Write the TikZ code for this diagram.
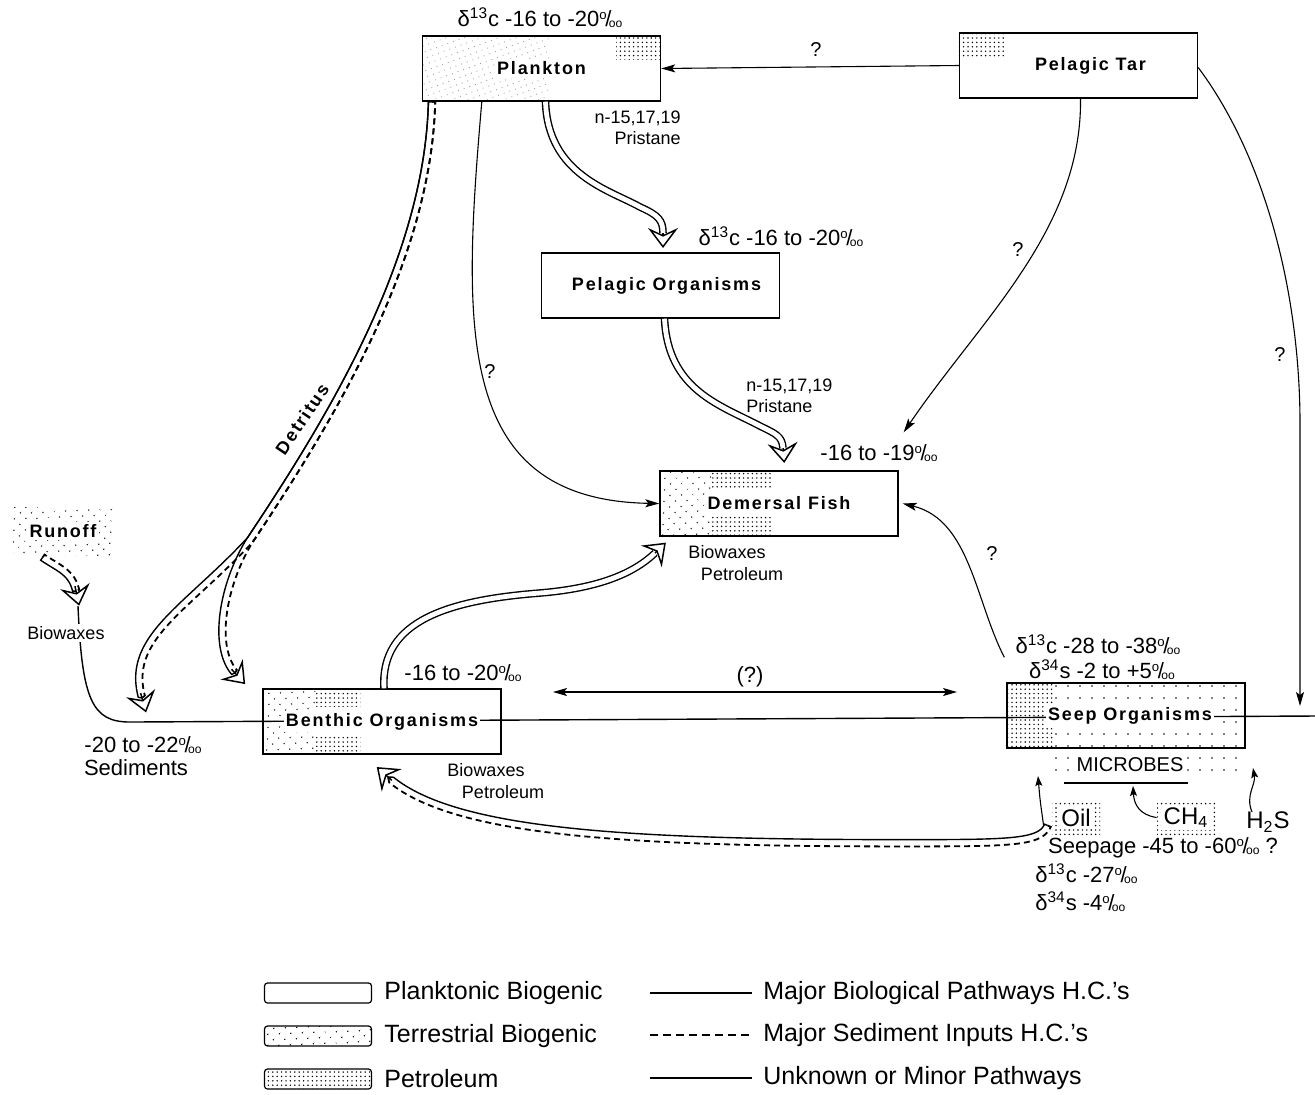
\documentclass[tikz,border=0pt]{standalone}
\usepackage{fontspec}
\setmainfont{Liberation Sans}
\newfontfamily\boxfont{Liberation Sans}[LetterSpace=10]
\usepackage{graphicx}
\usetikzlibrary{arrows.meta,positioning,calc,backgrounds,patterns.meta,
                decorations.pathmorphing}
\newcommand{\pmil}{\raisebox{0.6ex}{\scalebox{0.6}{o}}\kern-0.06em/\kern-0.12em\raisebox{-0.1ex}{\scalebox{0.55}{oo}}}
\newcommand{\wbox}[1]{{\setlength{\fboxsep}{1.2pt}\colorbox{white}{#1}}}

\begin{document}
\begin{tikzpicture}[x=0.5pt, y=-0.5pt,
  box/.style={draw, line width=0.7pt, minimum width=119pt, minimum height=32.5pt,
              inner sep=0pt, font=\boxfont\bfseries\fontsize{9}{10}\selectfont},
  patch/.style={minimum width=#1, minimum height=17.5pt, inner sep=0pt,
                font=\fontsize{12}{13}\selectfont, petro},
  lbl/.style={font=\fontsize{11}{12}\selectfont, inner sep=1pt},
  small/.style={font=\fontsize{9}{10.5}\selectfont, inner sep=1pt},
  qm/.style={font=\fontsize{10}{11}\selectfont, inner sep=1pt},
  legtxt/.style={font=\fontsize{12.5}{14}\selectfont, anchor=west, inner sep=0pt},
  swatch/.style={draw, line width=0.6pt, rounded corners=1.5pt,
                 minimum width=53.5pt, minimum height=10pt},
  terr/.style={pattern={Dots[distance=4pt, angle=45, radius=0.4pt]}},
  petro/.style={pattern={Dots[distance=2.2pt, radius=0.4pt]}},
  faint/.style={pattern={Dots[distance=3pt, angle=20, radius=0.3pt]}, pattern color=black!40},
  sparse/.style={pattern={Dots[distance=6pt, radius=0.45pt]}},
  minor/.style={line width=0.55pt, -{Stealth[length=7pt, width=4pt, inset=1.5pt]}},
  wide/.style={double, double distance=2.4pt, line width=0.7pt},
  widehead/.style={line width=0.75pt, -{Stealth[fill=white, length=10pt, width=15pt, inset=3.5pt]}},
  mixsolid/.style={line width=0.7pt, decorate, decoration={curveto, raise=-1.7pt}},
  mixdash/.style={line width=0.9pt, dash pattern=on 3pt off 2pt,
                  decorate, decoration={curveto, raise=1.7pt}},
]
  \useasboundingbox (0,0) rectangle (1315,1094);

  % Boxes
  \node[box] (plankton) at (541.5,68.5) {\wbox{Plankton}};
  \node[box] (tar) at (1078.5,65.5) {\hspace*{12pt}\wbox{Pelagic Tar}};
  \node[box] (pelagic) at (660.5,285.5) {\hspace*{6pt}\wbox{Pelagic Organisms}};
  \node[box] (fish) at (779,503.5) {\wbox{Demersal Fish}};
  \node[box] (benthic) at (382,721.5) {\wbox{Benthic Organisms}};
  \node[box] (seep) at (1126,715.5) {\hspace*{4pt}\wbox{Seep Organisms}};
  \node[terr, minimum width=50pt, minimum height=24pt, inner sep=0pt,
        font=\boxfont\bfseries\fontsize{9}{10}\selectfont] (runoff) at (63,531) {\wbox{Runoff}};
  \node[patch=24pt] (oil) at (1076,817.5) {\wbox{Oil}};
  \node[patch=29pt] (ch4) at (1186,817.5) {\wbox{CH\textsubscript{4}}};
  \node[font=\fontsize{12}{13}\selectfont, inner sep=1pt] (h2s) at (1268,822) {H\textsubscript{2}S};
  \node[font=\fontsize{10}{11}\selectfont, inner sep=0pt] (microbes) at (1130,765) {\wbox{MICROBES}};

  % Fills and the sediment line
  \begin{scope}[on background layer]
    \path[faint] (plankton.north west) rectangle ($(plankton.south west)+(127,0)$);
    \path[petro] ($(plankton.north east)+(-45,0)$) rectangle ($(plankton.north east)+(0,24)$);
    \path[petro] (tar.north west) rectangle ($(tar.north west)+(45,25)$);
    \path[terr] (fish.north west) rectangle ($(fish.south west)+(52,0)$);
    \path[petro] ($(fish.north west)+(52,0)$) rectangle ($(fish.north west)+(114,18)$);
    \path[petro] ($(fish.south west)+(52,-20)$) rectangle ($(fish.south west)+(114,0)$);
    \path[terr] (benthic.north west) rectangle ($(benthic.south west)+(53,0)$);
    \path[petro] ($(benthic.north west)+(53,0)$) rectangle ($(benthic.north west)+(98,18)$);
    \path[petro] ($(benthic.south west)+(53,-18)$) rectangle ($(benthic.south west)+(98,0)$);
    \path[petro] (seep.north west) rectangle ($(seep.south west)+(48,0)$);
    \path[sparse] ($(seep.north west)+(48,0)$) rectangle (seep.south east);
    \path[sparse] (1045,753) rectangle (1240,777);
    \coordinate (sedtop) at (78,606);
    \coordinate (edge) at (1315,716);
    \draw[line width=0.7pt] (sedtop) .. controls (82,700) and (92,722) .. (130,722) -- (edge);
  \end{scope}
  \draw[line width=0.6pt] ($(microbes.south west)+(-10,8)$) -- ($(microbes.south east)+(2,8)$);

  % Labels
  \node[lbl] (plc) at (540,18) {δ\textsuperscript{13}c -16 to -20\pmil};
  \node[small, align=right, anchor=east] (plpr) at (683,128) {n-15,17,19\\Pristane};
  \node[lbl] (pec) at (781,237) {δ\textsuperscript{13}c -16 to -20\pmil};
  \node[small, align=left, anchor=west] (pepr) at (744,395.5) {n-15,17,19\\Pristane};
  \node[lbl] (fic) at (879,453) {-16 to -19\pmil};
  \node[small] (fibw) at (727,552) {Biowaxes};
  \node[small] (fipe) at (742,574) {Petroleum};
  \node[lbl] (bec) at (463,673) {-16 to -20\pmil};
  \node[small] (bebw) at (486,770) {Biowaxes};
  \node[small] (bepe) at (503,792) {Petroleum};
  \node[lbl] (sec) at (1098,645) {δ\textsuperscript{13}c -28 to -38\pmil};
  \node[lbl] (ses) at (1102,670) {δ\textsuperscript{34}s -2 to +5\pmil};
  \node[lbl] (seepage) at (1163,848) {Seepage -45 to -60\pmil\ ?};
  \node[lbl, anchor=west] (oilc) at (1033,874) {δ\textsuperscript{13}c -27\pmil};
  \node[lbl, anchor=west] (oils) at (1033,902) {δ\textsuperscript{34}s -4\pmil};
  \node[lbl] (sedc) at (143,745) {-20 to -22\pmil};
  \node[lbl] (sed) at (136,768) {Sediments};
  \node[small, fill=white] (robw) at (66,633) {Biowaxes};
  \node[font=\boxfont\bfseries\fontsize{9}{10}\selectfont, rotate=56] (detritus) at (302,419) {Detritus};

  % Minor pathways
  \draw[minor] (tar.west) -- (plankton.east);
  \node[qm] (q1) at (816,50) {?};
  \draw[minor] ($(plankton.south west)+(60,0)$) .. controls (462,330) and (455,500) .. (fish.west);
  \node[qm] (q2) at (490,372) {?};
  \draw[minor] ($(tar.south)+(2,0)$) .. controls (1082,230) and (980,320) .. ($(fish.north east)+(5,-38)$);
  \node[qm] (q3) at (1018,250) {?};
  \coordinate (tarend) at (1300,706);
  \draw[minor] ($(tar.east)+(0,2)$) .. controls (1260,150) and (1299,280) .. (1300,420) -- (tarend);
  \node[qm] (q4) at (1280,355) {?};
  \draw[minor] ($(seep.north west)+(-2,-25)$) .. controls (975,600) and (970,520) .. ($(fish.east)+(4,0)$);
  \node[qm] (q5) at (992,553) {?};
  \coordinate (qa) at (553,692);
  \coordinate (qb) at (957,692);
  \draw[line width=0.55pt, {Stealth[length=7pt, width=4pt, inset=1.5pt]}-{Stealth[length=7pt, width=4pt, inset=1.5pt]}] (qa) -- (qb);
  \node[lbl] (q6) at (750,677) {(?)};
  \draw[minor, -{Stealth[length=5pt, width=3.5pt, inset=1pt]}] ($(oil.west)+(-8,8)$) .. controls (1040,800) .. (1038,776);
  \draw[minor, -{Stealth[length=5pt, width=3.5pt, inset=1pt]}] (ch4.west) .. controls (1140,815) and (1134,805) .. (1133,786);
  \draw[minor, -{Stealth[length=5pt, width=3.5pt, inset=1pt]}] (1252,812) .. controls (1245,795) and (1256,785) .. (1253,768);

  % Plankton to pelagic organisms
  \coordinate (pp2) at (663,220);
  \coordinate (ppe) at (663,233);
  \draw[widehead] ($(ppe)!2.5pt!(pp2)$) -- ($(ppe)!-7.5pt!(pp2)$);
  \draw[wide] ($(plankton.south)+(4,0)$) .. controls (548,175) and (610,190) .. (640,207)
              .. controls (658,215) and (pp2) .. (ppe);

  % Pelagic organisms to demersal fish
  \coordinate (pf2) at (782,436);
  \coordinate (pfe) at (783,448);
  \draw[widehead] ($(pfe)!2.5pt!(pf2)$) -- ($(pfe)!-7.5pt!(pf2)$);
  \draw[wide] ($(pelagic.south)+(4,0)$) .. controls (668,390) and (720,405) .. (760,426)
              .. controls (776,434) and (pf2) .. (pfe);

  % Benthic organisms to demersal fish
  \coordinate (bf2) at (634,573);
  \coordinate (bfe) at (655,553);
  \draw[widehead] ($(bfe)!2.5pt!(bf2)$) -- ($(bfe)!-7.5pt!(bf2)$);
  \draw[wide] ($(benthic.north)+(2,0)$) .. controls (380,620) and (450,600) .. (540,593)
              .. controls (600,588) and (bf2) .. (bfe);

  % Detritus
  \coordinate (da2) at (125,638);
  \coordinate (dae) at (142,698);
  \coordinate (db2) at (212,648);
  \coordinate (dbe) at (235,673);
  \draw[widehead] ($(dae)!2.5pt!(da2)$) -- ($(dae)!-7.5pt!(da2)$);
  \draw[widehead] ($(dbe)!2.5pt!(db2)$) -- ($(dbe)!-7.5pt!(db2)$);
  \draw[mixsolid] ($(plankton.south west)+(10,0)$) .. controls (428,260) and (330,420) .. (250,540)
                  .. controls (185,610) and (da2) .. (dae);
  \draw[mixdash] ($(plankton.south west)+(10,0)$) .. controls (428,260) and (330,420) .. (250,540)
                 .. controls (185,610) and (da2) .. (dae);
  \draw[mixsolid] ($(plankton.south west)+(10,0)$) .. controls (428,260) and (330,420) .. (250,540)
                  .. controls (222,585) and (db2) .. (dbe);
  \draw[mixdash] ($(plankton.south west)+(10,0)$) .. controls (428,260) and (330,420) .. (250,540)
                 .. controls (222,585) and (db2) .. (dbe);

  % Runoff
  \coordinate (ro2) at (72,572);
  \coordinate (roe) at (76,591);
  \draw[widehead] ($(roe)!2.5pt!(ro2)$) -- ($(roe)!-7.5pt!(ro2)$);
  \draw[mixsolid] ($(runoff.south west)+(30,2)$) .. controls (58,568) and (ro2) .. (roe);
  \draw[mixdash] ($(runoff.south west)+(30,2)$) .. controls (58,568) and (ro2) .. (roe);

  % Oil seepage to benthic organisms
  \coordinate (ob2) at (450,832);
  \coordinate (obe) at (388,777);
  \draw[widehead] ($(obe)!2.5pt!(ob2)$) -- ($(obe)!-7.5pt!(ob2)$);
  \draw[mixsolid] ($(oil.west)+(-4,8)$) .. controls (1040,843) and (1010,843) .. (900,843)
                  .. controls (620,843) and (ob2) .. (obe);
  \draw[mixdash] ($(oil.west)+(-4,8)$) .. controls (1040,843) and (1010,843) .. (900,843)
                 .. controls (620,843) and (ob2) .. (obe);

  % Legend
  \node[swatch] (swplank) at (318,993) {};
  \node[swatch, terr] (swterr) at (318,1036) {};
  \node[swatch, petro] (swpet) at (318,1079) {};
  \node[legtxt] (lgplank) at (384,993) {Planktonic Biogenic};
  \node[legtxt] (lgterr) at (384,1036) {Terrestrial Biogenic};
  \node[legtxt] (lgpet) at (384,1079) {Petroleum};
  \coordinate (l1a) at (650,993);
  \coordinate (l1b) at (752,993);
  \coordinate (l2a) at (650,1035);
  \coordinate (l2b) at (752,1035);
  \coordinate (l3a) at (650,1078);
  \coordinate (l3b) at (752,1078);
  \draw[line width=1pt] (l1a) -- (l1b);
  \draw[line width=0.8pt, dash pattern=on 4pt off 2.5pt] (l2a) -- (l2b);
  \draw[line width=0.55pt] (l3a) -- (l3b);
  \node[legtxt] (lgmajor) at (763,993) {Major Biological Pathways H.C.'s};
  \node[legtxt] (lgsed) at (763,1035) {Major Sediment Inputs H.C.'s};
  \node[legtxt] (lgminor) at (763,1078) {Unknown or Minor Pathways};
\end{tikzpicture}
\end{document}
